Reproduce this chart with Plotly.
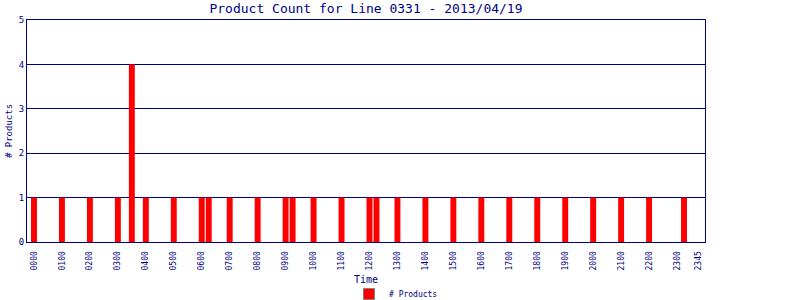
import plotly.graph_objects as go

# 15-minute slots for the day
slots = [f"{h:02d}{m:02d}" for h in range(24) for m in (0, 15, 30, 45)]

times = ["0000", "0100", "0200", "0300", "0330", "0400", "0500", "0600", "0615",
         "0700", "0800", "0900", "0915", "1000", "1100", "1200", "1215", "1300",
         "1400", "1500", "1600", "1700", "1800", "1900", "2000", "2100", "2200", "2315"]
counts = [1, 1, 1, 1, 4, 1, 1, 1, 1,
          1, 1, 1, 1, 1, 1, 1, 1, 1,
          1, 1, 1, 1, 1, 1, 1, 1, 1, 1]

tick_labels = ["0000", "0100", "0200", "0300", "0400", "0500", "0600", "0700",
               "0800", "0900", "1000", "1100", "1200", "1300", "1400", "1500",
               "1600", "1700", "1800", "1900", "2000", "2100", "2200", "2300", "2345"]
y_ticks = [0, 1, 2, 3, 4, 5]

NAVY = "#000080"
FONT = "DejaVu Sans Mono"

fig = go.Figure()
fig.add_trace(go.Bar(x=times, y=counts, marker=dict(color="#FF0000", line=dict(width=0)),
                     width=0.85, showlegend=False, name="# Products"))
fig.add_trace(go.Scatter(x=[None], y=[None], mode="markers", name="# Products",
                         marker=dict(symbol="square", size=11, color="#FF0000",
                                     line=dict(color="#808080", width=1))))

fig.update_layout(
    width=800, height=300,
    margin=dict(l=27, r=95, t=20, b=58, autoexpand=False),
    paper_bgcolor="white", plot_bgcolor="white",
    font=dict(family=FONT, color=NAVY, size=9),
    title=dict(text="Product Count for Line 0331 - 2013/04/19", x=366 / 800, xanchor="center",
               y=1 - 8 / 300, yanchor="middle", font=dict(size=13, color=NAVY, family=FONT)),
    bargap=0.15,
    showlegend=True,
    legend=dict(orientation="h", xref="container", yref="container", x=0.495, xanchor="center",
                y=6 / 300, yanchor="middle", font=dict(size=8, color=NAVY, family=FONT),
                bgcolor="rgba(0,0,0,0)", itemwidth=30, tracegroupgap=0),
    annotations=[dict(text="Time", xref="paper", yref="paper", x=0.5, y=-37 / 222,
                      xanchor="center", yanchor="middle", showarrow=False,
                      font=dict(size=10, family=FONT, color=NAVY))],
)
fig.update_xaxes(
    type="category", categoryorder="array", categoryarray=slots,
    range=[-1, 96], tickmode="array", tickvals=tick_labels, ticktext=tick_labels,
    tickangle=-90, tickfont=dict(size=8, family=FONT, color=NAVY), ticklabelstandoff=5,
    showline=True, linecolor=NAVY, linewidth=1, mirror=True, showgrid=False,
    ticks="", zeroline=False, automargin=False,
)
fig.update_yaxes(
    range=[0, 5], tickmode="array", tickvals=y_ticks,
    tickfont=dict(size=9, family=FONT, color=NAVY),
    showline=True, linecolor=NAVY, linewidth=1, mirror=True,
    showgrid=True, gridcolor=NAVY, gridwidth=1, zeroline=False, ticks="",
    title=dict(text="# Products", font=dict(size=9, family=FONT, color=NAVY), standoff=4),
    automargin=False,
)

fig.write_html("out.html")
